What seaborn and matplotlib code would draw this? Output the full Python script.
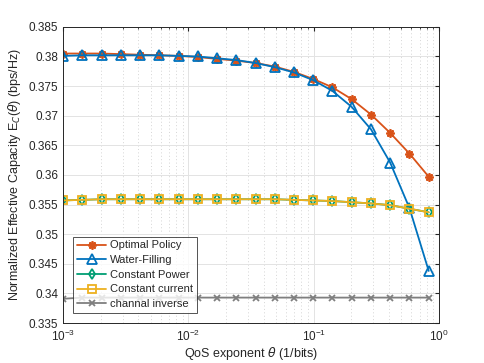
from matplotlib import pyplot as plt
from matplotlib.ticker import FormatStrFormatter, LogLocator, NullFormatter
import seaborn as sns
import numpy as np
import pandas as pd

theta = [0.001, 0.00142, 0.00203, 0.00289, 0.00412, 0.00586, 0.00835, 0.0119,
         0.0169, 0.0241, 0.0344, 0.0489, 0.0697, 0.0993, 0.141, 0.201, 0.287,
         0.408, 0.582, 0.829]

optimal = [0.3805, 0.3805, 0.3805, 0.3804, 0.3803, 0.3802, 0.3801, 0.3799,
           0.3796, 0.3793, 0.3789, 0.3783, 0.3774, 0.3762, 0.3748, 0.3728,
           0.3702, 0.3671, 0.3636, 0.3597]
water = [0.3801, 0.3802, 0.3802, 0.3802, 0.3802, 0.3802, 0.3801, 0.3800,
         0.3797, 0.3794, 0.3789, 0.3782, 0.3773, 0.3760, 0.3742, 0.3715,
         0.3677, 0.3621, 0.3544, 0.3438]
const_power = [0.3557, 0.3558, 0.3559, 0.3559, 0.3559, 0.3559, 0.3559, 0.3559,
               0.3559, 0.3559, 0.3559, 0.3559, 0.3558, 0.3557, 0.3556, 0.3554,
               0.3552, 0.3549, 0.3543, 0.3537]
const_current = [0.3557, 0.3558, 0.3559, 0.3559, 0.3559, 0.3559, 0.3559, 0.3559,
                 0.3559, 0.3559, 0.3559, 0.3559, 0.3558, 0.3557, 0.3556, 0.3554,
                 0.3552, 0.3549, 0.3543, 0.3537]
chan_inv = [0.3391, 0.3393, 0.3393, 0.3393, 0.3393, 0.3393, 0.3393, 0.3393,
            0.3393, 0.3393, 0.3393, 0.3393, 0.3393, 0.3393, 0.3393, 0.3393,
            0.3393, 0.3393, 0.3393, 0.3393]

labels = ["Optimal Policy", "Water-Filling", "Constant Power",
          "Constant current", "channal inverse"]
colors = ["#D95319", "#0072BD", "#009E73", "#EDB120", "#7F7F7F"]
markers = [(8, 2, 0), "^", "d", "s", "x"]
msizes = [6, 7, 5.5, 6, 4]

df = pd.DataFrame({
    "theta": theta * 5,
    "value": optimal + water + const_power + const_current + chan_inv,
    "policy": [l for l in labels for _ in theta],
})

sns.set_style("white")
plt.rcParams["font.family"] = ["Liberation Sans", "DejaVu Sans"]
plt.rcParams["mathtext.fontset"] = "dejavusans"

fig = plt.figure(figsize=(4.85, 3.63), dpi=100)
ax = fig.add_axes([0.130, 0.110, 0.775, 0.816])

for lab, c, m, ms in zip(labels, colors, markers, msizes):
    sub = df[df["policy"] == lab]
    hollow = m in ("^", "d", "s")
    sns.lineplot(data=sub, x="theta", y="value", ax=ax, color=c, marker=m,
                 markersize=ms, markerfacecolor="none" if hollow else c,
                 markeredgecolor=c, markeredgewidth=1.3, linewidth=1.3,
                 label=lab)

ax.set_xscale("log")
ax.set_xlim(1e-3, 1)
ax.set_ylim(0.335, 0.385)
ax.set_yticks(np.arange(0.335, 0.3851, 0.005))
ax.yaxis.set_major_formatter(FormatStrFormatter("%g"))
ax.xaxis.set_minor_locator(LogLocator(base=10, subs=np.arange(2, 10)))
ax.xaxis.set_minor_formatter(NullFormatter())

ax.grid(True, which="major", color="#E3E3E3", linewidth=0.7)
ax.grid(True, which="minor", axis="x", color="#D5D5D5", linestyle=(0, (1, 2.5)),
        linewidth=0.7)
ax.tick_params(direction="in", which="both", labelsize=8.5, top=True, right=True,
               length=3, color="#262626", labelcolor="#262626")
ax.tick_params(which="minor", length=1.5)
ax.tick_params(axis="x", pad=4)
for s in ax.spines.values():
    s.set_color("#262626")
    s.set_linewidth(0.7)

ax.set_xlabel(r"QoS exponent $\theta$ (1/bits)", fontsize=9, color="#262626",
              labelpad=1)
ax.set_ylabel(r"Normalized Effective Capacity E$_C$($\theta$) (bps/Hz)",
              fontsize=9, color="#262626")

leg = ax.legend(loc="lower left", bbox_to_anchor=(0.027, 0.034), fontsize=8,
                frameon=True, fancybox=False, edgecolor="#262626",
                handlelength=2.6, borderpad=0.35, labelspacing=0.42,
                handletextpad=0.4, borderaxespad=0)
leg.get_frame().set_linewidth(0.7)

fig.savefig("out.png", dpi=100)
